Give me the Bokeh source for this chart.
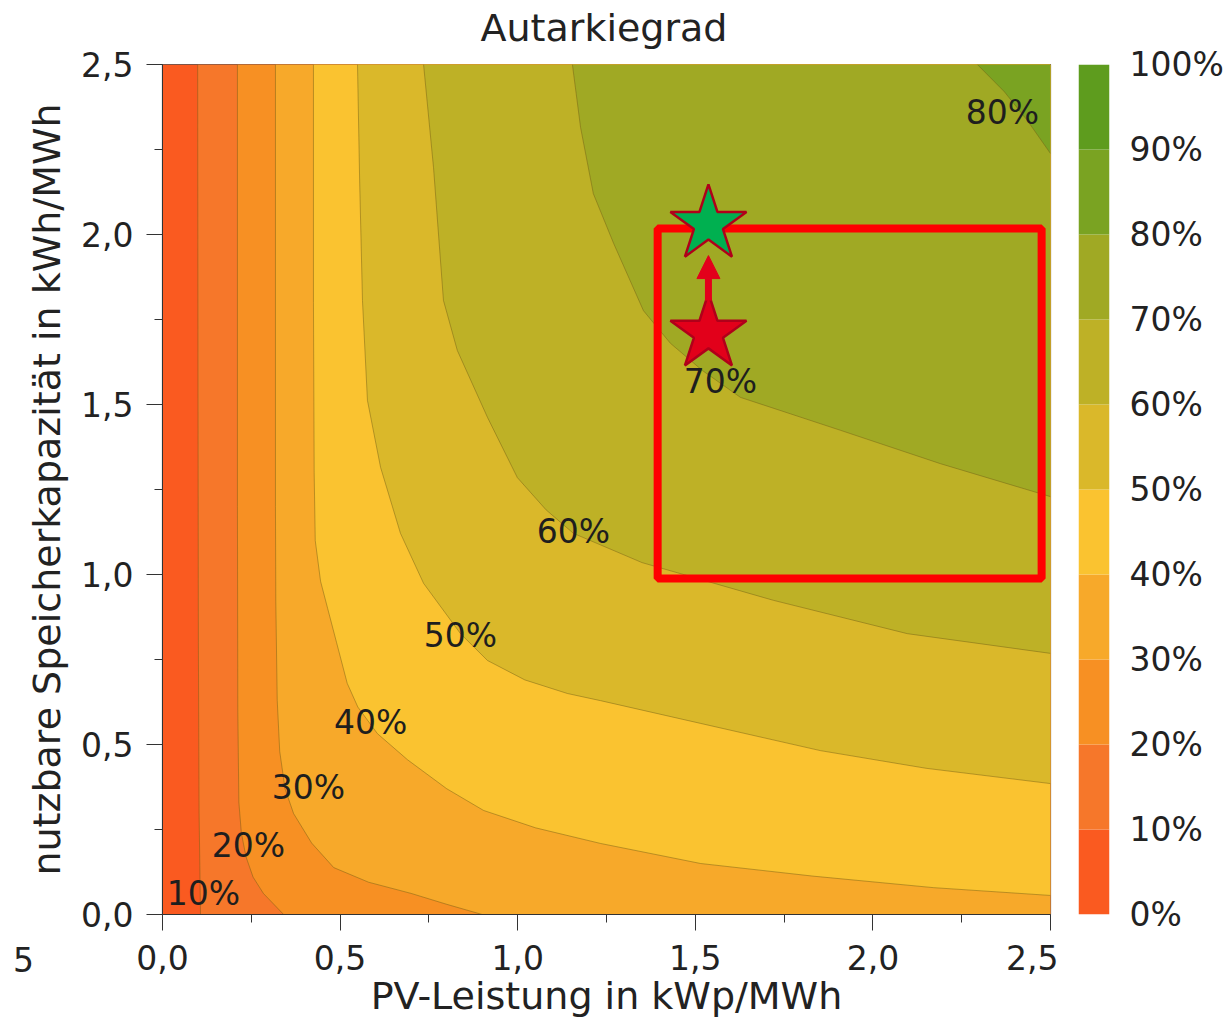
from bokeh.plotting import figure
from bokeh.models import Range1d, FixedTicker, Arrow, NormalHead, Div
from bokeh.layouts import row
from bokeh.embed import file_html
from bokeh.resources import INLINE
from bokeh.core.properties import value

# ---------------- texts ----------------
TITLE = "Autarkiegrad"
X_LABEL = "PV-Leistung in kWp/MWh"
Y_LABEL = "nutzbare Speicherkapazität in kWh/MWh"
STRAY_TEXT = "5"

# ---------------- axes ----------------
X_RANGE = [0.0, 2.5]
Y_RANGE = [0.0, 2.5]
X_TICKS = [0.0, 0.5, 1.0, 1.5, 2.0, 2.5]
X_TICK_LABELS = ["0,0", "0,5", "1,0", "1,5", "2,0", "2,5"]
X_MINOR = [0.25, 0.75, 1.25, 1.75, 2.25]
Y_TICKS = [0.0, 0.5, 1.0, 1.5, 2.0, 2.5]
Y_TICK_LABELS = ["0,0", "0,5", "1,0", "1,5", "2,0", "2,5"]
Y_MINOR = [0.25, 0.75, 1.25, 1.75, 2.25]

# ---------------- contour lines ----------------
C10_X = [0.099, 0.100, 0.101, 0.103, 0.107]
C10_Y = [2.5, 1.5, 0.8, 0.3, 0.0]

C20_X = [0.211, 0.211, 0.212, 0.215, 0.222, 0.235, 0.255, 0.284, 0.341]
C20_Y = [2.5, 1.2, 0.6, 0.33, 0.24, 0.17, 0.11, 0.062, 0.0]

C30_X = [0.318, 0.318, 0.319, 0.323, 0.330, 0.345, 0.369, 0.420, 0.482, 0.580, 0.700, 0.800, 0.900]
C30_Y = [2.5, 1.2, 0.92, 0.63, 0.48, 0.37, 0.297, 0.21, 0.138, 0.095, 0.062, 0.03, 0.0]

C40_X = [0.425, 0.425, 0.427, 0.430, 0.445, 0.465, 0.490, 0.520, 0.550, 0.605, 0.690, 0.800,
         0.904, 1.050, 1.233, 1.515, 1.830, 2.170, 2.5]
C40_Y = [2.5, 1.8, 1.3, 1.1, 0.98, 0.90, 0.80, 0.68, 0.61, 0.532, 0.455, 0.37,
         0.306, 0.255, 0.209, 0.150, 0.113, 0.079, 0.056]

C50_X = [0.549, 0.555, 0.563, 0.577, 0.614, 0.670, 0.735, 0.839, 0.915, 1.020, 1.140, 1.233,
         1.515, 1.852, 2.150, 2.5]
C50_Y = [2.5, 2.16, 1.806, 1.512, 1.315, 1.121, 0.974, 0.826, 0.747, 0.69, 0.65, 0.629,
         0.562, 0.482, 0.43, 0.385]

C60_X = [0.735, 0.763, 0.791, 0.830, 0.915, 0.999, 1.080, 1.157, 1.350, 1.720, 2.097, 2.5]
C60_Y = [2.5, 2.197, 1.806, 1.659, 1.462, 1.285, 1.19, 1.121, 1.035, 0.924, 0.826, 0.768]

C70_X = [1.154, 1.177, 1.213, 1.270, 1.354, 1.430, 1.520, 1.627, 1.909, 2.190, 2.5]
C70_Y = [2.5, 2.315, 2.12, 1.974, 1.776, 1.68, 1.60, 1.521, 1.424, 1.326, 1.229]

C80_X = [2.294, 2.370, 2.435, 2.5]
C80_Y = [2.5, 2.42, 2.335, 2.238]

CONTOURS = [(C10_X, C10_Y), (C20_X, C20_Y), (C30_X, C30_Y), (C40_X, C40_Y),
            (C50_X, C50_Y), (C60_X, C60_Y), (C70_X, C70_Y), (C80_X, C80_Y)]

# contour labels
LABEL_TEXT = ["10%", "20%", "30%", "40%", "50%", "60%", "70%", "80%"]
LABEL_X = [0.115, 0.242, 0.411, 0.586, 0.839, 1.157, 1.571, 2.365]
LABEL_Y = [0.062, 0.203, 0.374, 0.565, 0.821, 1.126, 1.568, 2.359]

# colour bar
CB_LEVELS = [0, 10, 20, 30, 40, 50, 60, 70, 80, 90, 100]
CB_LABELS = ["0%", "10%", "20%", "30%", "40%", "50%", "60%", "70%", "80%", "90%", "100%"]
BAND_COLORS = ["#FA5A20", "#F6772A", "#F79023", "#F7A92A", "#FAC330",
               "#DAB82A", "#BEB126", "#A0A924", "#7AA322", "#5E9C1E"]

# annotations
RECT_X = [1.394, 2.475]
RECT_Y = [0.988, 2.018]
STAR_X = [1.537, 1.537]
STAR_Y = [2.03, 1.71]
STAR_COLORS = ["#00B050", "#E2001A"]
ARROW_X = [1.537, 1.537]
ARROW_Y = [1.806, 1.938]

FONT = "DejaVu Sans"
TEXT_COLOR = "#222222"

# ---------------- main figure ----------------
p = figure(width=1058, height=1020,
           x_range=Range1d(*X_RANGE), y_range=Range1d(*Y_RANGE),
           output_backend="svg", toolbar_location=None,
           min_border_left=162, min_border_right=8,
           min_border_top=64, min_border_bottom=106)
p.title.visible = False
p.grid.visible = False
p.background_fill_color = "white"
p.border_fill_color = "white"
p.outline_line_color = "#555555"
p.outline_line_width = 1.2

# base band
p.quad(left=[X_RANGE[0]], right=[X_RANGE[1]], bottom=[Y_RANGE[0]], top=[Y_RANGE[1]],
       fill_color=BAND_COLORS[0], line_color=None)

# filled regions above each contour level
xs, ys = [], []
for cx, cy in CONTOURS:
    px, py = list(cx), list(cy)
    if py[-1] == Y_RANGE[0]:
        px += [X_RANGE[1], X_RANGE[1]]
        py += [Y_RANGE[0], Y_RANGE[1]]
    else:
        px += [X_RANGE[1]]
        py += [Y_RANGE[1]]
    xs.append(px)
    ys.append(py)
p.patches(xs, ys, fill_color=BAND_COLORS[1:1 + len(CONTOURS)], line_color=None)

p.multi_line([list(c[0]) for c in CONTOURS], [list(c[1]) for c in CONTOURS],
             line_color="#6e5a14", line_alpha=0.45, line_width=1)

p.text(x=LABEL_X, y=LABEL_Y, text=LABEL_TEXT, text_font=value(FONT),
       text_font_size="33px", text_align="center", text_baseline="middle",
       text_color="#1e1e1e")

# red rectangle
p.quad(left=[RECT_X[0]], right=[RECT_X[1]], bottom=[RECT_Y[0]], top=[RECT_Y[1]],
       fill_color=None, line_color="#FF0000", line_width=8)

# arrow
p.add_layout(Arrow(x_start=ARROW_X[0], y_start=ARROW_Y[0], x_end=ARROW_X[1], y_end=ARROW_Y[1],
                   line_color="#E3001B", line_width=7,
                   end=NormalHead(size=23, fill_color="#E3001B", line_color="#E3001B")))

# stars
p.scatter(x=STAR_X, y=STAR_Y, marker="star", size=80, fill_color=STAR_COLORS,
          line_color="#B0001A", line_width=2.5)

# axes
for ax, ticks, minor, labels in ((p.xaxis, X_TICKS, X_MINOR, X_TICK_LABELS),
                                 (p.yaxis, Y_TICKS, Y_MINOR, Y_TICK_LABELS)):
    ax.ticker = FixedTicker(ticks=ticks, minor_ticks=minor)
    ax.major_label_overrides = dict(zip(ticks, labels))
    ax.major_tick_out = 16
    ax.major_tick_in = 0
    ax.minor_tick_out = 8
    ax.minor_tick_in = 0
    ax.major_tick_line_color = "#333333"
    ax.minor_tick_line_color = "#333333"
    ax.axis_line_color = "#333333"
    ax.major_label_text_font = FONT
    ax.major_label_text_font_size = "33px"
    ax.major_label_text_color = TEXT_COLOR
    ax.axis_label_text_font = FONT
    ax.axis_label_text_font_size = "38px"
    ax.axis_label_text_font_style = "normal"
    ax.axis_label_text_color = TEXT_COLOR

p.xaxis.major_label_standoff = 14
p.yaxis.major_label_standoff = 13
p.xaxis.axis_label = X_LABEL
p.xaxis.axis_label_standoff = 1
p.yaxis.axis_label = Y_LABEL
p.yaxis.axis_label_standoff = 9

# ---------------- colour bar figure ----------------
cb = figure(width=168, height=1020, x_range=Range1d(0, 1),
            y_range=Range1d(CB_LEVELS[0], CB_LEVELS[-1]),
            output_backend="svg", toolbar_location=None, x_axis_type=None,
            y_axis_location="right",
            min_border_left=20, min_border_right=114, min_border_top=64, min_border_bottom=106)
cb.title.visible = False
cb.grid.visible = False
cb.outline_line_color = None
cb.background_fill_color = "white"
cb.quad(left=0, right=1, bottom=CB_LEVELS[:-1], top=CB_LEVELS[1:],
        fill_color=BAND_COLORS, line_color=None)
cb.yaxis.ticker = FixedTicker(ticks=CB_LEVELS, minor_ticks=[])
cb.yaxis.major_label_overrides = dict(zip(CB_LEVELS, CB_LABELS))
cb.yaxis.major_tick_out = 0
cb.yaxis.major_tick_in = 0
cb.yaxis.minor_tick_out = 0
cb.yaxis.minor_tick_in = 0
cb.yaxis.axis_line_color = None
cb.yaxis.major_label_standoff = 20
cb.yaxis.major_label_text_font = FONT
cb.yaxis.major_label_text_font_size = "33px"
cb.yaxis.major_label_text_color = TEXT_COLOR

title_div = Div(text=TITLE, margin=0,
                styles={"position": "absolute", "left": "404px", "top": "9px",
                        "width": "400px", "text-align": "center",
                        "font-size": "38px", "font-family": FONT, "color": TEXT_COLOR,
                        "line-height": "1"})

stray = Div(text=STRAY_TEXT, margin=0,
            styles={"position": "absolute", "left": "13px", "top": "944px",
                    "font-size": "33px", "font-family": FONT, "color": TEXT_COLOR,
                    "line-height": "1"})

layout = row(p, cb, title_div, stray)
open("out.html", "w").write(file_html(layout, INLINE))
